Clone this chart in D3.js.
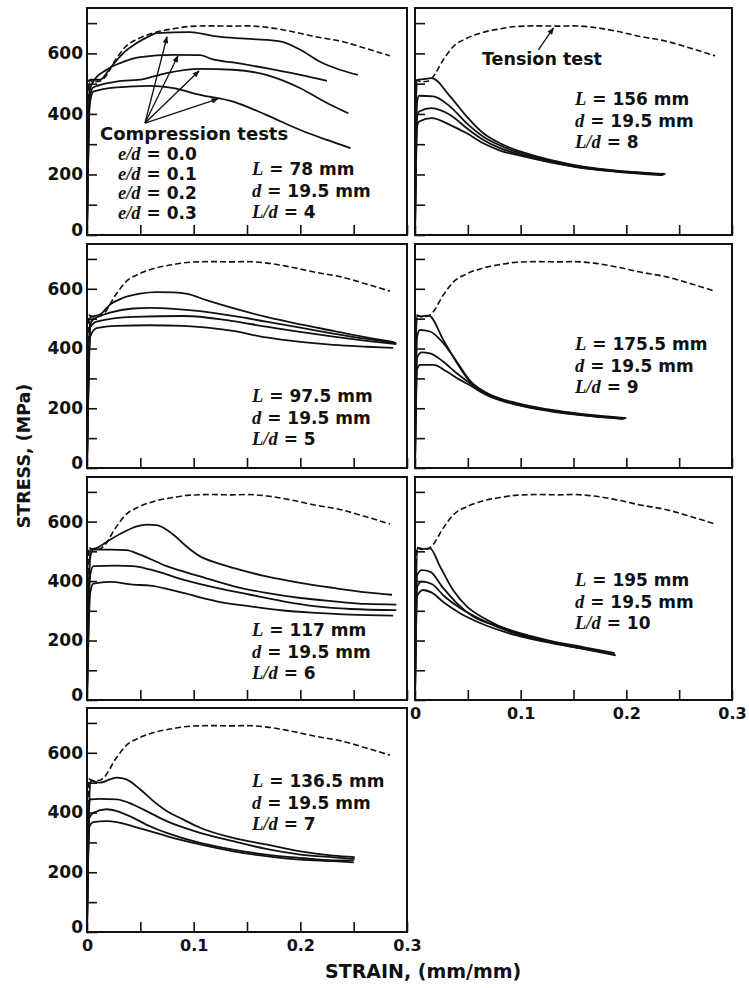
<!DOCTYPE html>
<html>
<head>
<meta charset="utf-8">
<script src="https://cdn.jsdelivr.net/npm/d3@7"></script>
<style>
  body { margin: 0; background: #fff; }
  svg { display: block; }
  .sans { font-family: "DejaVu Sans", sans-serif; font-weight: bold; fill: #111; }
  .it { font-family: "Liberation Serif", "Times New Roman", serif; font-style: italic; font-weight: bold; }
</style>
</head>
<body>
<svg id="chart" width="749" height="988"></svg>
<script>
// axis ticks
const strainTicks = [0, 0.05, 0.1, 0.15, 0.2, 0.25, 0.3];
const stressTicks = [0, 100, 200, 300, 400, 500, 600, 700];
const eOverD = ["0.0", "0.1", "0.2", "0.3"];

// tension test, [strain, stress MPa] (same specimen in every panel)
const tension = [[0,0],[0.0016,512],[0.006,506],[0.012,508],[0.016,518],[0.0268,579],[0.0363,623],[0.049,650],
  [0.0647,670],[0.0805,681],[0.0963,689],[0.118,691],[0.135,690],[0.150,691],[0.169,686],[0.191,673],
  [0.213,656],[0.238,640],[0.261,617],[0.284,592]];

// compression tests, one list per L/d, curves for e/d = 0.0, 0.1, 0.2, 0.3
const comp_ld4 = [
  [[0,0],[0.0028,513],[0.0122,513],[0.0216,551],[0.034,601],[0.0466,634],[0.059,658],[0.0653,667],[0.0966,670],
   [0.118,658],[0.137,651],[0.156,647],[0.181,640],[0.200,612],[0.218,573],[0.237,546],[0.254,529]],
  [[0,0],[0.0028,480],[0.0059,507],[0.0184,546],[0.031,568],[0.0497,588],[0.081,595],[0.106,594],[0.118,580],
   [0.137,570],[0.168,551],[0.200,529],[0.225,509]],
  [[0,0],[0.0025,450],[0.0059,488],[0.0278,507],[0.0528,515],[0.0747,535],[0.106,549],[0.137,546],[0.168,529],
   [0.200,485],[0.225,436],[0.245,402]],
  [[0,0],[0.0025,430],[0.0059,474],[0.0278,488],[0.059,493],[0.081,485],[0.106,463],[0.137,441],[0.168,397],
   [0.200,347],[0.225,314],[0.247,287]]
];
const comp_ld5 = [
  [[0,0],[0.003,505],[0.0122,514],[0.0216,547],[0.034,570],[0.0497,584],[0.0653,589],[0.081,588],[0.094,583],
   [0.112,562],[0.137,535],[0.168,506],[0.200,481],[0.231,459],[0.262,437],[0.288,421]],
  [[0,0],[0.003,480],[0.006,498],[0.0216,520],[0.043,534],[0.059,536],[0.081,533],[0.106,525],[0.137,509],
   [0.168,490],[0.200,470],[0.231,450],[0.262,432],[0.290,418]],
  [[0,0],[0.003,470],[0.009,490],[0.0434,506],[0.090,509],[0.137,492],[0.168,473],[0.200,456],[0.231,440],
   [0.262,426],[0.290,415]],
  [[0,0],[0.003,440],[0.009,468],[0.028,476],[0.059,478],[0.090,476],[0.137,459],[0.168,437],[0.200,422],
   [0.231,412],[0.262,406],[0.287,402]]
];
const comp_ld6 = [
  [[0,0],[0.003,505],[0.009,511],[0.0216,539],[0.034,564],[0.0466,584],[0.056,590],[0.0653,588],[0.081,556],
   [0.093,517],[0.106,483],[0.1216,461],[0.137,444],[0.168,416],[0.200,394],[0.231,377],[0.262,362],[0.286,354]],
  [[0,0],[0.003,480],[0.006,506],[0.0216,506],[0.037,504],[0.0497,489],[0.0747,450],[0.106,416],[0.137,383],
   [0.168,360],[0.200,343],[0.231,332],[0.262,323],[0.290,321]],
  [[0,0],[0.003,420],[0.006,450],[0.028,452],[0.043,450],[0.059,439],[0.090,405],[0.1216,377],[0.153,354],
   [0.184,332],[0.215,315],[0.247,306],[0.290,302]],
  [[0,0],[0.003,360],[0.006,391],[0.0216,397],[0.043,388],[0.059,385],[0.090,360],[0.1216,332],[0.153,315],
   [0.184,301],[0.215,293],[0.247,287],[0.287,284]]
];
const comp_ld7 = [
  [[0,0],[0.003,500],[0.0044,506],[0.0122,500],[0.0216,511],[0.028,517],[0.037,511],[0.0497,478],[0.062,439],
   [0.0747,405],[0.090,377],[0.106,349],[0.137,315],[0.168,293],[0.200,270],[0.231,256],[0.251,251]],
  [[0,0],[0.002,420],[0.0028,444],[0.0122,446],[0.028,444],[0.043,427],[0.059,399],[0.0747,371],[0.106,332],
   [0.137,304],[0.168,278],[0.200,259],[0.231,250],[0.251,245]],
  [[0,0],[0.002,380],[0.006,399],[0.0184,411],[0.028,405],[0.043,383],[0.059,354],[0.0747,332],[0.106,298],
   [0.137,276],[0.168,259],[0.200,248],[0.231,240],[0.250,240]],
  [[0,0],[0.002,350],[0.006,368],[0.0184,371],[0.028,368],[0.043,354],[0.059,338],[0.0747,321],[0.106,293],
   [0.137,270],[0.168,254],[0.200,242],[0.231,237],[0.250,233]]
];
const comp_ld8 = [
  [[0,0],[0.0016,512],[0.008,515],[0.0158,518],[0.0332,458],[0.049,391],[0.0647,336],[0.0805,303],[0.0995,276],
   [0.128,248],[0.159,226],[0.191,213],[0.237,202]],
  [[0,0],[0.002,440],[0.004,460],[0.0174,458],[0.033,425],[0.049,369],[0.0647,325],[0.0805,296],[0.0995,271],
   [0.128,245],[0.159,224],[0.191,211],[0.236,200]],
  [[0,0],[0.002,390],[0.004,408],[0.0158,419],[0.033,397],[0.049,353],[0.0647,314],[0.0805,287],[0.0995,266],
   [0.128,242],[0.159,222],[0.191,210],[0.235,199]],
  [[0,0],[0.002,360],[0.004,375],[0.0158,386],[0.033,364],[0.049,336],[0.0647,303],[0.0805,279],[0.0995,262],
   [0.128,240],[0.159,221],[0.191,209],[0.234,198]]
];
const comp_ld9 = [
  [[0,0],[0.0016,510],[0.006,508],[0.013,510],[0.0268,429],[0.0379,362],[0.052,290],[0.068,251],[0.0963,217],
   [0.128,195],[0.159,180],[0.200,167]],
  [[0,0],[0.002,440],[0.0047,462],[0.0142,457],[0.0268,418],[0.0395,356],[0.052,293],[0.068,250],[0.0963,215],
   [0.128,193],[0.159,178],[0.199,166]],
  [[0,0],[0.002,370],[0.0063,387],[0.0142,384],[0.0268,356],[0.0395,317],[0.052,284],[0.068,247],[0.0963,213],
   [0.128,192],[0.159,177],[0.198,165]],
  [[0,0],[0.002,330],[0.0047,345],[0.0174,345],[0.030,323],[0.0426,295],[0.052,277],[0.068,244],[0.0963,211],
   [0.128,190],[0.159,176],[0.197,164]]
];
const comp_ld10 = [
  [[0,0],[0.002,512],[0.008,508],[0.0142,510],[0.0237,449],[0.036,370],[0.049,315],[0.068,270],[0.0963,225],
   [0.128,197],[0.159,175],[0.189,153]],
  [[0,0],[0.002,420],[0.0063,437],[0.0142,432],[0.0268,376],[0.0395,326],[0.055,281],[0.0805,247],[0.0963,228],
   [0.128,199],[0.159,178],[0.189,158]],
  [[0,0],[0.002,380],[0.0063,398],[0.0158,390],[0.028,348],[0.0426,309],[0.0616,272],[0.0963,222],[0.128,194],
   [0.159,173],[0.175,163]],
  [[0,0],[0.002,350],[0.0079,370],[0.0158,361],[0.028,326],[0.0426,292],[0.0616,259],[0.0963,217],[0.128,192],
   [0.159,172],[0.190,150]]
];

// arrows: [from strain, from stress] -> [to strain, to stress]
const compArrowFrom = [0.0544, 370];
const compArrowTo = [[0.075,655],[0.0853,592],[0.105,542],[0.1228,450]];
const tensionArrow = [[0.1168,612],[0.131,684]];

// layout
const COLS = [{x0: 87, x1: 407}, {x0: 415, x1: 732}];
const ROWS = [{y0: 8, y1: 235}, {y0: 244, y1: 468}, {y0: 477, y1: 700}, {y0: 708, y1: 932}];

const panels = [
  {col: 0, row: 0, curves: comp_ld4,  L: "78",    ld: "4",  lx: 165, ly: 167},
  {col: 1, row: 0, curves: comp_ld8,  L: "156",   ld: "8",  lx: 160, ly: 97},
  {col: 0, row: 1, curves: comp_ld5,  L: "97.5",  ld: "5",  lx: 165, ly: 158},
  {col: 1, row: 1, curves: comp_ld9,  L: "175.5", ld: "9",  lx: 160, ly: 106},
  {col: 0, row: 2, curves: comp_ld6,  L: "117",   ld: "6",  lx: 165, ly: 159},
  {col: 1, row: 2, curves: comp_ld10, L: "195",   ld: "10", lx: 160, ly: 109, xLabels: true},
  {col: 0, row: 3, curves: comp_ld7,  L: "136.5", ld: "7",  lx: 165, ly: 79,  xLabels: true}
];

const svg = d3.select("#chart");

svg.append("defs").append("marker")
  .attr("id", "arrow")
  .attr("viewBox", "0 0 10 10")
  .attr("refX", 9).attr("refY", 5)
  .attr("markerWidth", 8).attr("markerHeight", 7)
  .attr("markerUnits", "userSpaceOnUse")
  .attr("orient", "auto")
  .append("path")
  .attr("d", "M0,1 L10,5 L0,9 z")
  .attr("fill", "#111");

// text with serif-italic symbols and bold sans rest
function richText(g, x, y, parts, size) {
  const t = g.append("text").attr("class", "sans").attr("x", x).attr("y", y).style("font-size", size + "px");
  parts.forEach(p => {
    const s = t.append("tspan").text(p[0]);
    if (p[1]) s.attr("class", "it").style("font-size", (size * 1.09) + "px");
  });
  return t;
}

function fmtStrain(d) {
  if (Math.abs(d * 10 - Math.round(d * 10)) > 1e-9) return "";
  return d === 0 ? "0" : d.toFixed(1);
}

panels.forEach((p, i) => {
  const c = COLS[p.col], r = ROWS[p.row];
  const x = d3.scaleLinear().domain([0, 0.3]).range([c.x0, c.x1]);
  const y = d3.scaleLinear().domain([0, 750]).range([r.y1, r.y0]);
  const g = svg.append("g");

  const line = d3.line()
    .x(d => x(d[0]))
    .y(d => y(d[1]))
    .curve(d3.curveMonotoneX);

  // y axis, ticks pointing inward
  const ya = g.append("g")
    .attr("transform", `translate(${c.x0},0)`)
    .call(d3.axisLeft(y).tickValues(stressTicks).tickSize(-10).tickPadding(4)
      .tickFormat(d => (p.col === 0 && d % 200 === 0) ? d : ""));
  ya.select(".domain").remove();
  ya.selectAll(".tick line").attr("stroke", "#111").attr("stroke-width", 1.6);
  ya.selectAll(".tick text").attr("class", "sans").attr("font-family", null).style("font-size", "17px");
  ya.selectAll(".tick text").filter(d => d === 0).attr("dy", "0.05em");

  // x axis
  const xa = g.append("g")
    .attr("transform", `translate(0,${r.y1})`)
    .call(d3.axisBottom(x).tickValues(strainTicks).tickSize(-10).tickPadding(8)
      .tickFormat(d => p.xLabels ? fmtStrain(d) : ""));
  xa.select(".domain").remove();
  xa.selectAll(".tick line").attr("stroke", "#111").attr("stroke-width", 1.6);
  xa.selectAll(".tick text").attr("class", "sans").attr("font-family", null).style("font-size", "16px");

  // frame
  g.append("rect")
    .attr("x", c.x0).attr("y", r.y0)
    .attr("width", c.x1 - c.x0).attr("height", r.y1 - r.y0)
    .attr("fill", "none").attr("stroke", "#111").attr("stroke-width", 2);

  // curves
  g.append("path")
    .datum(tension)
    .attr("d", line)
    .attr("fill", "none").attr("stroke", "#111").attr("stroke-width", 1.6)
    .attr("stroke-dasharray", "6,3");

  g.selectAll("path.comp")
    .data(p.curves)
    .join("path")
    .attr("class", "comp")
    .attr("d", line)
    .attr("fill", "none").attr("stroke", "#111").attr("stroke-width", 1.8)
    .attr("stroke-linejoin", "round");

  // specimen label
  const lx = c.x0 + p.lx, ly = r.y0 + p.ly, sp = 21.5;
  richText(g, lx, ly, [["L", true], [" = " + p.L + " mm"]], 17);
  richText(g, lx, ly + sp, [["d", true], [" = 19.5 mm"]], 17);
  richText(g, lx, ly + 2 * sp, [["L/d", true], [" = " + p.ld]], 17);

  if (i === 0) {
    g.append("text").attr("class", "sans")
      .attr("x", c.x0 + 13).attr("y", r.y0 + 132)
      .style("font-size", "18px")
      .text("Compression tests");
    eOverD.forEach((v, k) => {
      richText(g, c.x0 + 31, r.y0 + 152 + k * 19.5, [["e/d", true], [" = " + v]], 17);
    });
    compArrowTo.forEach(t => {
      g.append("line")
        .attr("x1", x(compArrowFrom[0])).attr("y1", y(compArrowFrom[1]))
        .attr("x2", x(t[0])).attr("y2", y(t[1]))
        .attr("stroke", "#111").attr("stroke-width", 1.3)
        .attr("marker-end", "url(#arrow)");
    });
  }
  if (i === 1) {
    g.append("text").attr("class", "sans")
      .attr("x", c.x0 + 67).attr("y", r.y0 + 57)
      .style("font-size", "17.5px")
      .text("Tension test");
    g.append("line")
      .attr("x1", x(tensionArrow[0][0])).attr("y1", y(tensionArrow[0][1]))
      .attr("x2", x(tensionArrow[1][0])).attr("y2", y(tensionArrow[1][1]))
      .attr("stroke", "#111").attr("stroke-width", 1.3)
      .attr("marker-end", "url(#arrow)");
  }
});

// axis titles
svg.append("text").attr("class", "sans")
  .attr("transform", "translate(30,456) rotate(-90)")
  .attr("text-anchor", "middle")
  .style("font-size", "17.5px")
  .text("STRESS, (MPa)");

svg.append("text").attr("class", "sans")
  .attr("x", 325).attr("y", 978)
  .style("font-size", "19px")
  .text("STRAIN, (mm/mm)");
</script>
</body>
</html>
